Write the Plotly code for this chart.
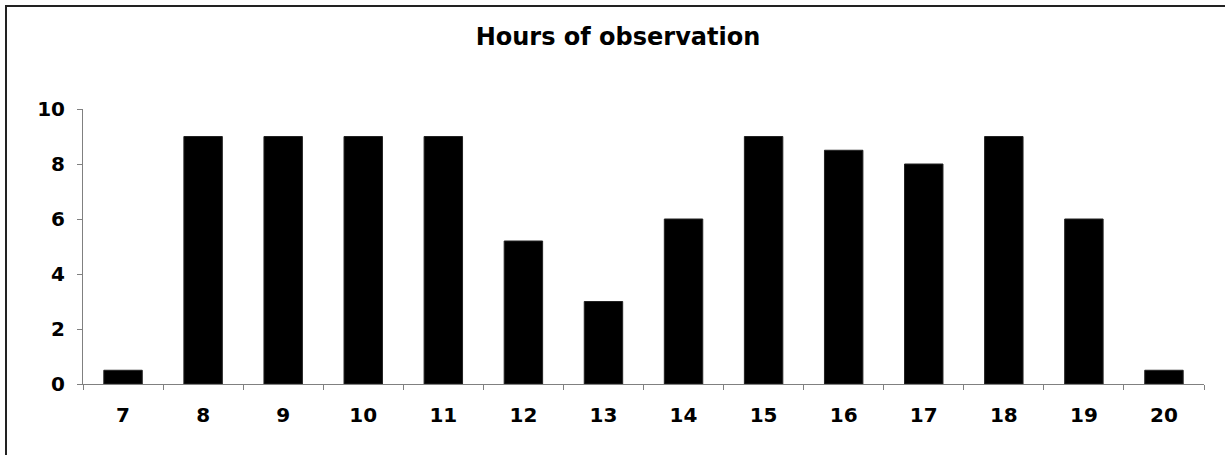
import plotly.graph_objects as go

hours = ["7", "8", "9", "10", "11", "12", "13", "14", "15", "16", "17", "18", "19", "20"]
values = [0.5, 9, 9, 9, 9, 5.2, 3, 6, 9, 8.5, 8, 9, 6, 0.5]
y_ticks = [0, 2, 4, 6, 8, 10]
title_text = "Hours of observation"

W, H = 1225, 455
L, R, T, B = 83, 21, 109, 71
pw, ph = W - L - R, H - T - B

fig = go.Figure()
fig.add_trace(go.Bar(
    x=hours, y=values,
    marker=dict(color="black", line=dict(color="#222222", width=1)),
))

fam = "DejaVu Sans, Verdana, sans-serif"

fig.update_layout(
    width=W, height=H,
    margin=dict(l=L, r=R, t=T, b=B),
    paper_bgcolor="white", plot_bgcolor="white",
    bargap=0.52,
    showlegend=False,
    title=dict(text="<b>" + title_text + "</b>", x=618 / W, xref="container", xanchor="center",
               y=1 - 37 / H, yref="container", yanchor="middle",
               font=dict(family=fam, size=24, color="black")),
    xaxis=dict(type="category", showline=True, linecolor="#808080", linewidth=1,
               ticks="outside", ticklen=5, tickcolor="#808080", tickson="boundaries",
               showgrid=False, zeroline=False, ticklabelstandoff=13,
               tickfont=dict(family=fam, size=20, color="black", weight="bold")),
    yaxis=dict(range=[0, 10], tickvals=y_ticks, showline=True, linecolor="#808080", linewidth=1,
               ticks="outside", ticklen=5, tickcolor="#808080", showgrid=False, zeroline=False,
               ticklabelstandoff=8,
               tickfont=dict(family=fam, size=20, color="black", weight="bold")),
    shapes=[
        dict(type="line", xref="paper", yref="paper",
             x0=(5 - L) / pw, x1=(W - L) / pw, y0=(H - B - 6) / ph, y1=(H - B - 6) / ph,
             line=dict(color="#222222", width=2)),
        dict(type="line", xref="paper", yref="paper",
             x0=(6 - L) / pw, x1=(6 - L) / pw, y0=(H - B - 5) / ph, y1=(H - B - H) / ph,
             line=dict(color="#222222", width=2)),
    ],
)

fig.write_html("out.html", config={"displayModeBar": False},
               post_script="document.body.style.margin='0';")
